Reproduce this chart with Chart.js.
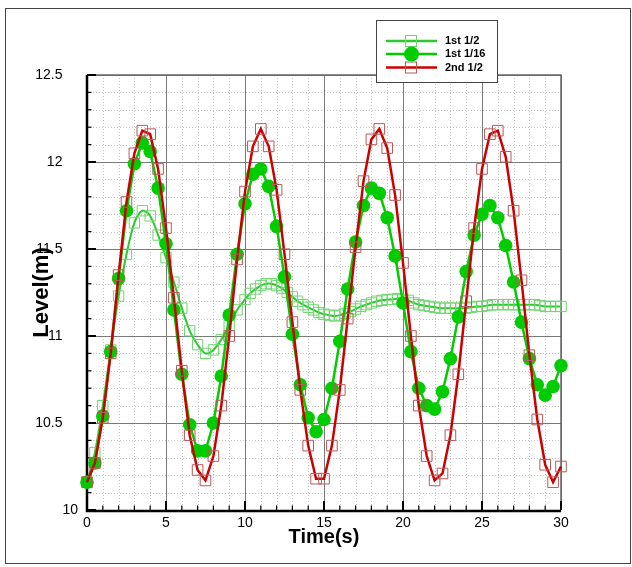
<!DOCTYPE html>
<html><head><meta charset="utf-8">
<script src="https://cdn.jsdelivr.net/npm/chart.js@4.4.0/dist/chart.umd.min.js"></script>
<style>html,body{margin:0;padding:0;background:#fff;}#wrap{width:632px;height:567px;}</style>
</head><body><div id="wrap"><canvas id="c" width="632" height="567"></canvas></div>
<script>
// ---- data ----
const timeCoarse = [0,0.5,1,1.5,2,2.5,3,3.5,4,4.5,5,5.5,6,6.5,7,7.5,8,8.5,9,9.5,10,10.5,11,11.5,12,12.5,13,13.5,14,14.5,15,15.5,16,16.5,17,17.5,18,18.5,19,19.5,20,20.5,21,21.5,22,22.5,23,23.5,24,24.5,25,25.5,26,26.5,27,27.5,28,28.5,29,29.5,30];
const level2nd_half = [10.16,10.27,10.53,10.9,11.35,11.77,12.05,12.18,12.16,11.96,11.62,11.22,10.8,10.43,10.23,10.17,10.31,10.6,11.0,11.44,11.83,12.09,12.19,12.09,11.84,11.47,11.08,10.69,10.37,10.18,10.18,10.37,10.69,11.1,11.51,11.89,12.13,12.19,12.08,11.81,11.42,11.0,10.6,10.31,10.17,10.21,10.43,10.78,11.2,11.62,11.96,12.16,12.18,12.03,11.72,11.32,10.89,10.52,10.26,10.16,10.25];
const level1st_16 = [10.16,10.27,10.54,10.91,11.33,11.72,11.99,12.11,12.06,11.85,11.53,11.15,10.78,10.49,10.34,10.34,10.5,10.77,11.12,11.47,11.76,11.93,11.96,11.86,11.63,11.34,11.01,10.72,10.53,10.45,10.52,10.7,10.97,11.27,11.54,11.75,11.85,11.82,11.68,11.46,11.19,10.91,10.7,10.6,10.58,10.68,10.87,11.11,11.37,11.58,11.7,11.75,11.68,11.52,11.31,11.08,10.87,10.72,10.66,10.71,10.83];
const timeFine = [0,0.5,1,1.5,2,2.5,3,3.5,4,4.5,5,5.5,6,6.5,7,7.5,8,8.5,9,9.5,
  10,10.33,10.67,11,11.33,11.67,12,12.33,12.67,13,13.33,13.67,14,14.33,14.67,15,15.33,15.67,16,16.33,16.67,17,17.33,17.67,18,18.33,18.67,19,19.33,19.67,20,20.33,20.67,21,21.33,21.67,22,22.33,22.67,23,23.33,23.67,24,24.33,24.67,25,25.33,25.67,26,26.33,26.67,27,27.33,27.67,28,28.33,28.67,29,29.33,29.67,30];
const level1st_half = [10.16,10.33,10.6,10.92,11.23,11.47,11.65,11.72,11.69,11.58,11.45,11.31,11.16,11.03,10.95,10.9,10.92,10.98,11.06,11.15,
  11.21,11.245,11.27,11.29,11.3,11.3,11.29,11.275,11.25,11.225,11.2,11.18,11.165,11.15,11.135,11.125,11.12,11.115,11.12,11.13,11.14,11.155,11.17,11.18,11.19,11.2,11.205,11.21,11.21,11.215,11.21,11.205,11.19,11.18,11.175,11.17,11.165,11.16,11.16,11.16,11.16,11.16,11.16,11.165,11.17,11.17,11.175,11.18,11.18,11.18,11.18,11.18,11.18,11.18,11.18,11.18,11.175,11.17,11.17,11.17,11.17];
const xTickValues = [0,5,10,15,20,25,30];
const yTickValues = [10,10.5,11,11.5,12,12.5];
const seriesNames = ['1st 1/2','1st 1/16','2nd 1/2'];

const pts = (xs, ys) => xs.map((x,i)=>({x:x, y:ys[i]}));
const FONT = "'Liberation Sans', Arial, sans-serif";

const gridPlugin = {
  id:'gridAxes',
  beforeDraw(chart){
    const c = chart.ctx;
    c.save();
    c.fillStyle='#fff'; c.fillRect(0,0,chart.width,chart.height);
    c.strokeStyle='#444'; c.lineWidth=1;
    c.strokeRect(5.5,8.5,625,555);
    c.restore();
  },
  beforeDatasetsDraw(chart){
    const c = chart.ctx, a = chart.chartArea, xs = chart.scales.x, ys = chart.scales.y;
    c.save();
    // minor dotted grid
    c.strokeStyle='#c4c4c4'; c.lineWidth=1; c.setLineDash([1,2]);
    for(let t=1;t<30;t++){ if(t%5===0) continue; const px=Math.round(xs.getPixelForValue(t))+0.5; c.beginPath(); c.moveTo(px,a.top); c.lineTo(px,a.bottom); c.stroke(); }
    for(let k=1;k<25;k++){ if(k%5===0) continue; const py=Math.round(ys.getPixelForValue(10+k*0.1))+0.5; c.beginPath(); c.moveTo(a.left,py); c.lineTo(a.right,py); c.stroke(); }
    c.setLineDash([]);
    // major grid
    c.strokeStyle='#7a7a7a'; c.lineWidth=1;
    xTickValues.forEach(v=>{ const px=Math.round(xs.getPixelForValue(v))+0.5; c.beginPath(); c.moveTo(px,a.top); c.lineTo(px,a.bottom); c.stroke(); });
    yTickValues.forEach(v=>{ const py=Math.round(ys.getPixelForValue(v))+0.5; c.beginPath(); c.moveTo(a.left,py); c.lineTo(a.right,py); c.stroke(); });
    // top & right border
    c.strokeStyle='#666'; c.lineWidth=1.5;
    c.beginPath(); c.moveTo(a.left,a.top); c.lineTo(a.right,a.top); c.lineTo(a.right,a.bottom); c.stroke();
    // axes
    c.strokeStyle='#000'; c.lineWidth=2.5;
    c.beginPath(); c.moveTo(a.left,a.top); c.lineTo(a.left,a.bottom+1); c.lineTo(a.right,a.bottom+1); c.stroke();
    // inward ticks
    for(let t=0;t<=30;t++){ const px=xs.getPixelForValue(t); const L=(t%5===0)?9:4.5; c.lineWidth=(t%5===0)?2:1.2; c.beginPath(); c.moveTo(px,a.bottom); c.lineTo(px,a.bottom-L); c.stroke(); }
    for(let k=0;k<=25;k++){ const py=ys.getPixelForValue(10+k*0.1); const L=(k%5===0)?9:4.5; c.lineWidth=(k%5===0)?2:1.2; c.beginPath(); c.moveTo(a.left,py); c.lineTo(a.left+L,py); c.stroke(); }
    c.restore();
  },
  afterDraw(chart){
    const c = chart.ctx;
    c.save();
    const bx=376.5, by=20.5, bw=121, bh=62;
    c.fillStyle='#fff'; c.fillRect(bx,by,bw,bh);
    c.strokeStyle='#444'; c.lineWidth=1; c.strokeRect(bx,by,bw,bh);
    const rows=[41,54,67.5];
    const order=[2,1,0]; // dataset indices: light green, dark green, red
    order.forEach((di,i)=>{
      const ds = chart.data.datasets[di];
      const y=rows[i];
      c.strokeStyle=ds.borderColor; c.lineWidth=2.5;
      c.beginPath(); c.moveTo(386,y); c.lineTo(437,y); c.stroke();
      if(ds.pointStyle==='circle'){
        c.fillStyle=ds.pointBackgroundColor; c.beginPath(); c.arc(411.5,y,7.5,0,Math.PI*2); c.fill();
      } else {
        c.strokeStyle=ds.pointBorderColor; c.lineWidth=1; c.strokeRect(405.5,y-5.5,11,11);
      }
      c.fillStyle='#000'; c.font='bold 11px '+FONT; c.textBaseline='middle'; c.textAlign='left';
      c.fillText(ds.label,445,y);
    });
    c.restore();
  }
};

new Chart(document.getElementById('c'),{
  type:'line',
  data:{datasets:[
    {label:seriesNames[2], data:pts(timeCoarse, level2nd_half), borderColor:'#cc0000', borderWidth:2.5,
     pointStyle:'rect', pointRadius:7.5, pointBorderColor:'#b85a5a', pointBackgroundColor:'rgba(0,0,0,0)', pointBorderWidth:1, order:0, clip:false},
    {label:seriesNames[1], data:pts(timeCoarse, level1st_16), borderColor:'#00cc00', borderWidth:2.5,
     pointStyle:'circle', pointRadius:6.8, pointBorderColor:'#00cc00', pointBackgroundColor:'#00cc00', pointBorderWidth:0, order:1, clip:false},
    {label:seriesNames[0], data:pts(timeFine, level1st_half), borderColor:'#2dc92d', borderWidth:2, tension:0.3,
     pointStyle:'rect', pointRadius:7.3, pointBorderColor:'#6fd56f', pointBackgroundColor:'rgba(0,0,0,0)', pointBorderWidth:1, order:2, clip:false}
  ]},
  options:{
    responsive:false, animation:false, devicePixelRatio:1,
    layout:{padding:{left:0,top:75,right:71,bottom:0}},
    plugins:{legend:{display:false}, tooltip:{enabled:false}},
    scales:{
      x:{type:'linear', min:0, max:30,
        afterFit(s){ s.height=57; },
        afterBuildTicks(s){ s.ticks = xTickValues.map(v=>({value:v})); },
        grid:{display:false, drawTicks:false}, border:{display:false},
        ticks:{color:'#000', font:{family:FONT,size:14}, padding:5, maxRotation:0, callback:v=>String(v)},
        title:{display:true, text:'Time(s)', color:'#000', font:{family:FONT,size:20,weight:'bold'}, padding:{top:0,bottom:18}}
      },
      y:{type:'linear', min:10, max:12.5,
        afterFit(s){ s.width=87; },
        afterBuildTicks(s){ s.ticks = yTickValues.map(v=>({value:v})); },
        grid:{display:false, drawTicks:false}, border:{display:false},
        ticks:{color:'#000', font:{family:FONT,size:14}, padding:9, callback:v=>(v===10 ? '10' : String(v)+'    ')},
        title:{display:true, text:'Level(m)', color:'#000', font:{family:FONT,size:22,weight:'bold'}, padding:{top:29,bottom:0}}
      }
    }
  },
  plugins:[gridPlugin]
});
</script></body></html>
